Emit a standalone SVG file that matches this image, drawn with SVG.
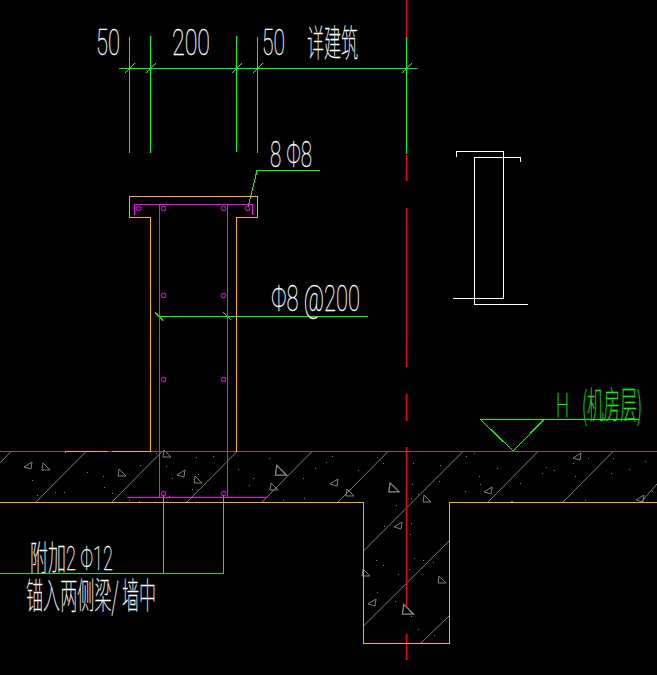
<svg xmlns="http://www.w3.org/2000/svg" width="657" height="675" viewBox="0 0 657 675">
<style>
.bg{fill:#000}
path{shape-rendering:crispEdges}
.g{fill:none;stroke:#00ff00;stroke-width:1}
.g2{fill:none;stroke:#2fd62f;stroke-width:1}
.o{fill:none;stroke:#ffb000;stroke-width:1}
.m{fill:none;stroke:#ff00ff;stroke-width:1}
.r{fill:none;stroke:#ff0000;stroke-width:1}
.w{fill:none;stroke:#fff;stroke-width:1}
.b{fill:none;stroke:#8a4a5e;stroke-width:1}
path.h{fill:none;stroke:#8c8c8c;stroke-width:.9;shape-rendering:auto}
.d{fill:#808080}
text{font-family:"Roboto","Noto Sans CJK SC",sans-serif;font-weight:100;fill:#fff;stroke:#fff;stroke-width:.3}
.cjk{font-family:"Noto Sans CJK SC",sans-serif;font-weight:100}
text.gt{fill:#00ff00;stroke:#00ff00}
</style>
<defs>
<path id="t1" d="M-3-4 L4 3 L-4 3 Z" class="h"/>
<path id="t2" d="M4-4 L3 3 L-4 1 Z" class="h"/>
<circle id="c" r="2.2" class="m"/>
<path id="tk" d="M-5 5L5-5" class="g"/>
<path id="tb" d="M-4-4L4 4" class="g"/>
</defs>
<rect class="bg" width="657" height="675"/>
<g id="hatching">
<path class="h" d="M36 502L86 451.5M112 502L162 451.5M187 502L237 451.5M262 502L312 451.5M0 463L11 451.5M338 502L388 451.5M363.5 551L463 451.5M488 502L538 451.5M563 502L613 451.5M641 502L657 484M363.5 626L449 541M421 643L449 616"/>
<g id="aggregate">
<use href="#t2" x="28" y="466"/><use href="#t1" x="46" y="467"/><use href="#t1" x="122" y="473"/><use href="#t1" x="167" y="454"/><use href="#t2" x="181" y="474"/><use href="#t1" x="198" y="480"/><use href="#t1" transform="translate(281 471) scale(1.4)"/><use href="#t1" x="274" y="487"/><use href="#t2" x="334" y="483"/><use href="#t1" x="350" y="493"/><use href="#t1" transform="translate(394 488) scale(1.3)"/><use href="#t1" x="427" y="499"/><use href="#t2" x="398" y="526"/><use href="#t1" x="366" y="573"/><use href="#t1" x="442" y="580"/><use href="#t2" x="372" y="603"/><use href="#t1" transform="translate(408 610) scale(1.4)"/><use href="#t2" x="488" y="491"/><use href="#t2" x="577" y="457"/><use href="#t2" x="640" y="499"/>
</g>
<path class="d" d="M65 452h1v1h-1zM32 480h1v1h-1zM37 495h1v1h-1zM55 492h1v1h-1zM64 492h1v1h-1zM87 472h1v1h-1zM103 476h1v1h-1zM104 487h1v1h-1zM112 493h1v1h-1zM140 465h1v1h-1zM129 500h1v1h-1zM139 501h1v1h-1zM156 453h1v1h-1zM172 478h1v1h-1zM166 466h1v1h-1zM196 457h1v1h-1zM213 456h1v1h-1zM198 474h1v1h-1zM192 489h1v1h-1zM169 496h1v1h-1zM238 469h1v1h-1zM253 478h1v1h-1zM249 485h1v1h-1zM269 458h1v1h-1zM303 478h1v1h-1zM315 468h1v1h-1zM326 462h1v1h-1zM283 500h1v1h-1zM304 498h1v1h-1zM332 456h1v1h-1zM358 470h1v1h-1zM377 457h1v1h-1zM383 463h1v1h-1zM413 463h1v1h-1zM412 484h1v1h-1zM440 465h1v1h-1zM439 481h1v1h-1zM418 494h1v1h-1zM411 498h1v1h-1zM396 505h1v1h-1zM411 523h1v1h-1zM410 534h1v1h-1zM384 526h1v1h-1zM376 560h1v1h-1zM383 565h1v1h-1zM414 558h1v1h-1zM423 560h1v1h-1zM433 562h1v1h-1zM409 569h1v1h-1zM398 574h1v1h-1zM377 592h1v1h-1zM395 601h1v1h-1zM411 616h1v1h-1zM418 629h1v1h-1zM434 635h1v1h-1zM466 456h1v1h-1zM474 453h1v1h-1zM497 468h1v1h-1zM479 476h1v1h-1zM480 484h1v1h-1zM465 491h1v1h-1zM520 483h1v1h-1zM511 501h2v1h-2zM542 473h1v1h-1zM546 467h1v1h-1zM554 470h1v1h-1zM575 476h1v1h-1zM573 463h1v1h-1zM588 458h1v1h-1zM585 500h1v1h-1zM613 458h1v1h-1zM611 473h1v1h-1zM629 469h1v1h-1zM645 461h1v1h-1zM652 491h1v1h-1z"/>
</g>
<g id="connectors">
<path class="g" d="M129.5 37V153M150.5 36V153M236.5 36V152M257.5 37V153M406.5 37V154M119 68.5H417"/>
<use href="#tk" x="129.5" y="68.5"/><use href="#tk" x="150.5" y="68.5"/><use href="#tk" x="236.5" y="68.5"/><use href="#tk" x="257.5" y="68.5"/><use href="#tk" x="406.5" y="68.5"/>
<path class="g" d="M248 207L257 170.5H320"/>
<path class="g" d="M159.5 316.5H368"/>
<use href="#tb" x="159" y="316.5"/><use href="#tb" x="227.5" y="316.5"/>
<path class="g2" d="M163.5 495V573.5M223.5 495V573.5M0 573.5H223.5"/>
<path class="g" d="M480.5 419.5H639M480.5 419.5L513 451L544 419.5"/>
</g>
<g id="centerline">
<path class="r" d="M406.5 0V37M406.5 155V181M406.5 208V367M406.5 394V421M406.5 447V607M406.5 634V660"/>
</g>
<g id="section">
<path class="b" d="M0 451.5H657"/>
<path class="o" d="M65 451.5H108M112 451.5H150.5V217.5H129.5V196.5H257.5V217.5H236.5V451.5M0 502.5H363.5V643.5H449.5V502.5H657"/>
<path class="m" d="M134.5 214.5V204.5H252.5V214.5M159.5 204.5V497.5M227.5 204.5V497.5M127 497.5H266.5"/>
<use href="#c" x="138.5" y="208.5"/><use href="#c" x="163.5" y="208.5"/><use href="#c" x="223.5" y="208.5"/><use href="#c" x="247.5" y="208.5"/>
<use href="#c" x="163.5" y="295.5"/><use href="#c" x="223.5" y="295.5"/><use href="#c" x="163.5" y="379.5"/><use href="#c" x="223.5" y="379.5"/><use href="#c" x="163.5" y="493.5"/><use href="#c" x="223.5" y="493.5"/>
</g>
<g id="stirrup">
<path class="w" d="M456.5 157V151.5H503.5V298.5H453M520.5 162V157.5H474.5V304.5H528"/>
</g>
<g id="labels">
<text x="96" y="55" font-size="36" textLength="24" lengthAdjust="spacingAndGlyphs">50</text>
<text x="172" y="55" font-size="36" textLength="38" lengthAdjust="spacingAndGlyphs">200</text>
<text x="262" y="55" font-size="36" textLength="23" lengthAdjust="spacingAndGlyphs">50</text>
<text class="cjk" transform="translate(307 57) scale(.46 1)" font-size="37">详建筑</text>
<text x="270" y="167" font-size="36" textLength="42" lengthAdjust="spacingAndGlyphs" xml:space="preserve">8 Φ8</text>
<text x="271" y="311" font-size="36" textLength="89" lengthAdjust="spacingAndGlyphs">Φ8 @200</text>
<text transform="translate(30 570) scale(.53 1)" font-size="34">附加2 Φ12</text>
<text class="cjk" transform="translate(26 609) scale(.475 1)" font-size="36">锚入两侧梁/ 墙中</text>
<text class="gt" x="556" y="417" font-size="33" textLength="13" lengthAdjust="spacingAndGlyphs">H</text>
<text class="cjk gt" transform="translate(582 419) scale(.45 1)" font-size="37">(机房层)</text>
</g>
</svg>
